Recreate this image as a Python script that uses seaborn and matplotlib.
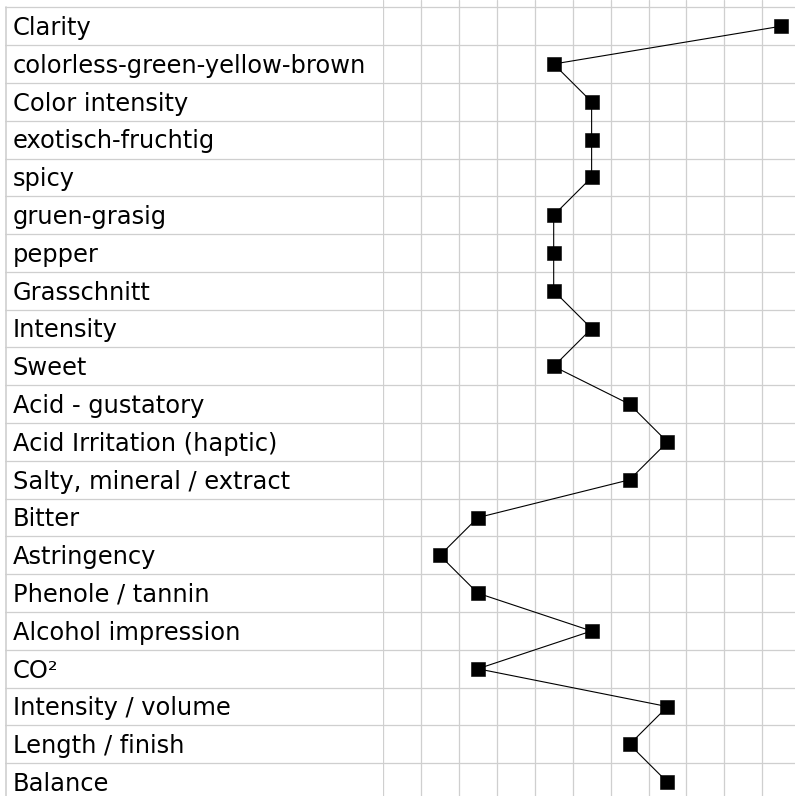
import numpy as np
import pandas as pd
import matplotlib
matplotlib.use("Agg")
import matplotlib.pyplot as plt
import seaborn as sns

# attribute labels, top to bottom, and the score marked on each row (1..11 scale)
attributes = ["Clarity", "colorless-green-yellow-brown", "Color intensity",
              "exotisch-fruchtig", "spicy", "gruen-grasig", "pepper",
              "Grasschnitt", "Intensity", "Sweet", "Acid - gustatory",
              "Acid Irritation (haptic)", "Salty, mineral / extract", "Bitter",
              "Astringency", "Phenole / tannin", "Alcohol impression", "CO²",
              "Intensity / volume", "Length / finish", "Balance"]
scores = [11, 5, 6, 6, 6, 5, 5, 5, 6, 5, 7, 8, 7, 3, 2, 3, 6, 3, 8, 7, 8]
n_cols = 11

df = pd.DataFrame({"attribute": attributes, "score": scores,
                   "row": np.arange(len(attributes))})

sns.set_style("white")
plt.rcParams['font.family'] = ['DejaVu Sans']

W, H = 795, 796
fig = plt.figure(figsize=(W / 100, H / 100), dpi=100)

row_h = 37.8
col_w = 37.93
top_px = 7.3
y_top = -0.5 - top_px / row_h
y_bot = y_top + H / row_h
grid_c = "#cfcfcf"
n = len(attributes)

# label table on the left
ax_t = fig.add_axes([5 / W, 0, 378 / W, 1])
ax_t.set_xlim(0, 1)
ax_t.set_ylim(y_bot, y_top)
ax_t.axis("off")
for b in np.arange(n + 1) - 0.5:
    ax_t.axhline(b, color=grid_c, lw=0.9, zorder=1)
ax_t.plot([0.0015, 0.0015], [-0.5, y_bot], color=grid_c, lw=1.2)
for i, lab in enumerate(df["attribute"]):
    ax_t.text(7.6 / 378, i + 0.232, lab, fontsize=17.4, va="baseline",
              ha="left", color="black")

# score grid on the right
ax = fig.add_axes([383 / W, 0, (W - 383) / W, 1])
ax.set_xlim(0.5, 0.5 + (W - 383) / col_w)
ax.set_ylim(y_bot, y_top)
for v in np.arange(n_cols + 1) + 0.5:
    ax.axvline(v, color=grid_c, lw=0.9, zorder=1)
for b in np.arange(n + 1) - 0.5:
    ax.axhline(b, color=grid_c, lw=0.9, zorder=1)

sns.lineplot(data=df, x="score", y="row", sort=False, estimator=None,
             orient="y", color="black", linewidth=0.8, marker="s",
             markersize=10.5, markeredgecolor="black", markeredgewidth=0.4,
             ax=ax, zorder=3)
ax.set_ylim(y_bot, y_top)
ax.set_xlabel("")
ax.set_ylabel("")
ax.set_xticks([])
ax.set_yticks([])
for s in ax.spines.values():
    s.set_visible(False)

fig.savefig("out.png", dpi=100)
